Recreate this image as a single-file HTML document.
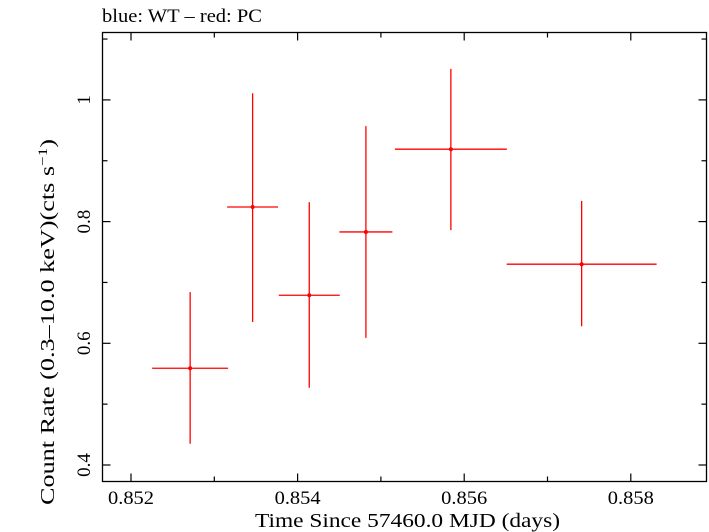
<!DOCTYPE html>
<html><head><meta charset="utf-8"><style>
html,body{margin:0;padding:0;background:#fff;}
svg{display:block;font-family:"Liberation Serif",serif;}
</style></head><body>
<svg id="chart" width="709" height="532" xmlns="http://www.w3.org/2000/svg">
<text x="102" y="22" font-size="19" textLength="160" lengthAdjust="spacingAndGlyphs">blue: WT – red: PC</text>
<rect x="102.5" y="32.5" width="604" height="449" fill="none" stroke="#000" stroke-width="1.3"/>
<g id="axes"></g>
<g id="series"></g>
<text x="255" y="527" font-size="20" textLength="305" lengthAdjust="spacingAndGlyphs">Time Since 57460.0 MJD (days)</text>
<text transform="translate(54,505) rotate(-90)" font-size="20" textLength="366" lengthAdjust="spacingAndGlyphs">Count Rate (0.3–10.0 keV)(cts s<tspan dy="-7" font-size="13">−1</tspan><tspan dy="7">)</tspan></text>
</svg>
<script>
const xTickValues=[0.852,0.854,0.856,0.858];
const xTickLabels=["0.852","0.854","0.856","0.858"];
const yTickValues=[0.4,0.6,0.8,1.0];
const yTickLabels=["0.4","0.6","0.8","1"];
const times=[0.85271,0.85346,0.85414,0.85482,0.85584,0.85741];
const timeErr=[0.000456,0.000306,0.000366,0.000318,0.000672,0.0009];
const rates=[0.559,0.824,0.679,0.783,0.919,0.730];
const rateHi=[0.684,1.011,0.832,0.957,1.051,0.834];
const rateLo=[0.435,0.635,0.527,0.609,0.786,0.628];

const NS="http://www.w3.org/2000/svg";
const L=102.5,R=706.5,T=32.5,B=481.5;
function xs(t){return 131+(t-0.852)*83300;}
function ys(v){return 465-(v-0.4)*608.5;}
function mk(tag,attrs,parent){const e=document.createElementNS(NS,tag);for(const k in attrs)e.setAttribute(k,attrs[k]);parent.appendChild(e);return e;}
const axes=document.getElementById('axes');
for(let v=0.851;v<=0.859001;v+=0.001){
  const x=xs(v);if(x<L||x>R)continue;
  const major=Math.abs(Math.round(v*1000)%2)===0;
  const len=major?8:5;
  const t1=mk('line',{x1:x,x2:x,y1:B,y2:B-len,stroke:'#000','stroke-width':1.2},axes);
  
  
  const t2=mk('line',{x1:x,x2:x,y1:T,y2:T+len,stroke:'#000','stroke-width':1.2},axes);
  
  
}
xTickValues.forEach((v,i)=>{
  const t=mk('text',{x:xs(v),y:504,'font-size':19,'text-anchor':'middle',textLength:46,lengthAdjust:'spacingAndGlyphs'},axes);
  t.textContent=xTickLabels[i];
  
  
});
for(let v=0.4;v<=1.1001;v+=0.1){
  const y=ys(v);if(y<T||y>B)continue;
  const major=Math.round(v*10)%2===0;
  const len=major?8:5;
  const t1=mk('line',{x1:L,x2:L+len,y1:y,y2:y,stroke:'#000','stroke-width':1.2},axes);
  
  
  const t2=mk('line',{x1:R,x2:R-len,y1:y,y2:y,stroke:'#000','stroke-width':1.2},axes);
  
  
}
yTickValues.forEach((v,i)=>{
  const t=mk('text',{transform:`translate(90,${ys(v)}) rotate(-90)`,'font-size':19,'text-anchor':'middle'},axes);
  t.textContent=yTickLabels[i];
  
  
});
const ser=document.getElementById('series');
times.forEach((t,i)=>{
  const g=mk('g',{},ser);
  
  
  mk('line',{x1:xs(t-timeErr[i]),x2:xs(t+timeErr[i]),y1:ys(rates[i]),y2:ys(rates[i]),stroke:'#f00','stroke-width':1.3},g);
  mk('line',{x1:xs(t),x2:xs(t),y1:ys(rateLo[i]),y2:ys(rateHi[i]),stroke:'#f00','stroke-width':1.3},g);
  mk('circle',{cx:xs(t),cy:ys(rates[i]),r:2,fill:'#f00'},g);
});
</script>
</body></html>
